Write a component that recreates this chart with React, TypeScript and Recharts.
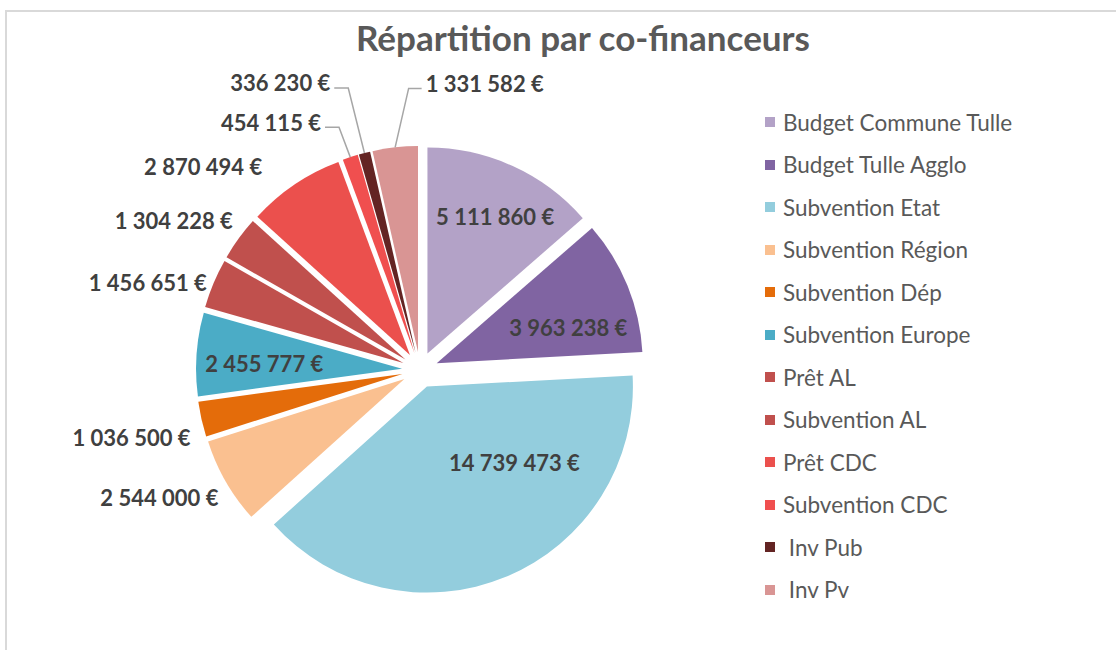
import React from 'react';
import { PieChart, Pie, Cell, Sector, Legend } from 'recharts';

// ── Data ──────────────────────────────────────────────────────────────────────
const FUNDERS = [
  'Budget Commune Tulle',
  'Budget Tulle Agglo',
  'Subvention Etat',
  'Subvention Région',
  'Subvention Dép',
  'Subvention Europe',
  'Prêt AL',
  'Subvention AL',
  'Prêt CDC',
  'Subvention CDC',
  '\u00a0Inv Pub',
  '\u00a0Inv Pv',
];

const AMOUNTS = [
  5111860, 3963238, 14739473, 2544000, 1036500, 2455777,
  1456651, 1304228, 2870494, 454115, 336230, 1331582,
];

const COLORS = [
  '#b3a2c7', '#8064a2', '#93cddd', '#fac090', '#e46c0a', '#4bacc6',
  '#c0504d', '#c0504d', '#eb504d', '#f04f4f', '#632423', '#d99594',
];

const data = FUNDERS.map((name, i) => ({ name, value: AMOUNTS[i] }));

// ── Layout bits ──────────────────────────────────────────────────────────────
const RAD = Math.PI / 180;
const EXPLODE = 18;
const FONT = 'Lato, "Open Sans", sans-serif';

// how each label sits: inside the slice, just outside, or outside with a leader line
type LabelSpec = { kind: 'inside' | 'outside' | 'leader'; dx: number; dy: number };
const LABEL_SPECS: LabelSpec[] = [
  { kind: 'inside', dx: 8, dy: -6 },
  { kind: 'inside', dx: -2, dy: 19 },
  { kind: 'inside', dx: 48, dy: -19 },
  { kind: 'outside', dx: -2, dy: 13 },
  { kind: 'outside', dx: -5, dy: 17 },
  { kind: 'inside', dx: 6, dy: 5 },
  { kind: 'outside', dx: -1, dy: 1 },
  { kind: 'outside', dx: -1, dy: -14 },
  { kind: 'outside', dx: -29, dy: -13 },
  { kind: 'leader', dx: -25, dy: -30 },
  { kind: 'leader', dx: -36, dy: -65 },
  { kind: 'leader', dx: 30, dy: -59 },
];

const fmtEuro = (v: number) => String(v).replace(/\B(?=(\d{3})+(?!\d))/g, ' ') + ' €';

function ExplodedSector(props: any) {
  const { cx, cy, midAngle } = props;
  const ox = EXPLODE * Math.cos(-midAngle * RAD);
  const oy = EXPLODE * Math.sin(-midAngle * RAD);
  return <Sector {...props} cx={cx + ox} cy={cy + oy} stroke="none" />;
}

function renderLabel(props: any) {
  const { cx, cy, midAngle, outerRadius, index, value } = props;
  const spec = LABEL_SPECS[index];
  const ux = Math.cos(-midAngle * RAD);
  const uy = Math.sin(-midAngle * RAD);
  const ecx = cx + EXPLODE * ux;
  const ecy = cy + EXPLODE * uy;
  const textStyle = { fontFamily: FONT, fontWeight: 700, fontSize: 22, fill: '#404040' };

  if (spec.kind === 'inside') {
    const r = index === 2 ? outerRadius * 0.5 : outerRadius * 0.7;
    return (
      <text x={ecx + r * ux + spec.dx} y={ecy + r * uy + spec.dy} textAnchor="middle" dominantBaseline="central" style={textStyle}>
        {fmtEuro(value)}
      </text>
    );
  }
  if (spec.kind === 'outside') {
    const r = outerRadius + 6;
    return (
      <text x={ecx + r * ux + spec.dx} y={ecy + r * uy + spec.dy} textAnchor="end" dominantBaseline="central" style={textStyle}>
        {fmtEuro(value)}
      </text>
    );
  }
  // leader line label
  const px = ecx + outerRadius * ux;
  const py = ecy + outerRadius * uy;
  const ex = px + spec.dx * 0.45;
  const ey = py + spec.dy;
  const toRight = spec.dx > 0;
  const hx = toRight ? ex + 13 : ex - 14;
  return (
    <g>
      <polyline points={`${px},${py} ${ex},${ey} ${hx},${ey}`} fill="none" stroke="#a6a6a6" strokeWidth={1.5} />
      <text x={toRight ? hx + 4 : hx - 4} y={ey - 5} textAnchor={toRight ? 'start' : 'end'} dominantBaseline="central" style={textStyle}>
        {fmtEuro(value)}
      </text>
    </g>
  );
}

// legend kept in data order (Recharts would otherwise sort it)
function LegendList() {
  return (
    <ul style={{ listStyle: 'none', margin: 0, padding: 0 }}>
      {FUNDERS.map((name, i) => (
        <li key={i} style={{ display: 'flex', alignItems: 'center', height: 42.5, fontFamily: FONT, fontSize: 22.5, color: '#595959' }}>
          <span style={{ width: 10, height: 10, background: COLORS[i], marginRight: 8, display: 'inline-block' }} />
          <span style={{ whiteSpace: 'pre' }}>{name}</span>
        </li>
      ))}
    </ul>
  );
}

export default function App() {
  return (
    <div style={{ position: 'fixed', left: 0, top: 0, width: 1116, height: 650, background: '#fff', overflow: 'hidden' }}>
      <div style={{ position: 'absolute', left: 5, top: 10, width: 1200, height: 700, borderTop: '2px solid #d9d9d9', borderLeft: '2px solid #d9d9d9' }} />
      <div style={{ position: 'absolute', left: 0, width: 1166, top: 16, textAlign: 'center', fontFamily: FONT, fontWeight: 700, fontSize: 35, color: '#595959' }}>
        Répartition par co-financeurs
      </div>
      <div style={{ position: 'absolute', left: 0, top: 0 }}>
        <PieChart width={1116} height={650} margin={{ top: 0, right: 0, bottom: 0, left: 0 }}>
          <Pie
            data={data}
            dataKey="value"
            nameKey="name"
            cx={420}
            cy={370}
            outerRadius={206}
            startAngle={90}
            endAngle={-270}
            stroke="none"
            shape={ExplodedSector}
            activeShape={ExplodedSector}
            inactiveShape={ExplodedSector}
            label={renderLabel}
            labelLine={false}
            isAnimationActive={false}
          >
            {data.map((d, i) => (
              <Cell key={d.name} fill={COLORS[i]} />
            ))}
          </Pie>
          <Legend
            layout="vertical"
            align="right"
            verticalAlign="top"
            content={LegendList}
            wrapperStyle={{ left: 765, top: 101, width: 345 }}
          />
        </PieChart>
      </div>
    </div>
  );
}
